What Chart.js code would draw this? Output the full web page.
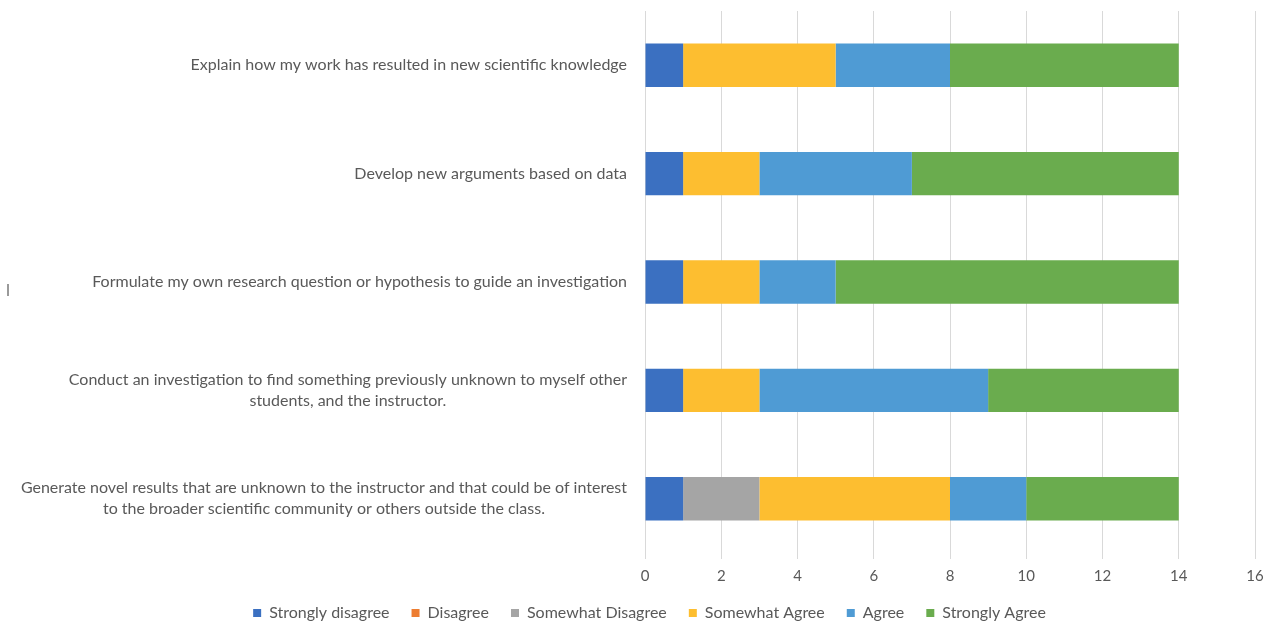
<!DOCTYPE html>
<html>
<head>
<meta charset="utf-8">
<script src="https://cdn.jsdelivr.net/npm/chart.js@4.4.1/dist/chart.umd.min.js"></script>
<style>
html,body{margin:0;padding:0;background:#fff;}
#wrap{width:1274px;height:624px;position:relative;}
</style>
</head>
<body>
<div id="wrap"><canvas id="c" width="1274" height="624"></canvas></div>
<script>
const categories = [
  ["Explain how my work has resulted in new scientific knowledge"],
  ["Develop new arguments based on data"],
  ["Formulate my own research question or hypothesis to guide an investigation"],
  ["Conduct an investigation to find something previously unknown to myself other", "students, and the instructor."],
  ["Generate novel results that are unknown to the instructor and that could be of interest", "to the broader scientific community or others outside the class."]
];
const seriesNames = ["Strongly disagree", "Disagree", "Somewhat Disagree", "Somewhat Agree", "Agree", "Strongly Agree"];
const stronglyDisagree = [1, 1, 1, 1, 1];
const disagree = [0, 0, 0, 0, 0];
const somewhatDisagree = [0, 0, 0, 0, 2];
const somewhatAgree = [4, 2, 2, 2, 5];
const agree = [3, 4, 2, 6, 2];
const stronglyAgree = [6, 7, 9, 5, 4];
const xTicks = [0, 2, 4, 6, 8, 10, 12, 14, 16];

const colors = ["#3B70C1", "#ED7D31", "#A5A5A5", "#FDBE30", "#4F9BD4", "#6AAC4E"];
const seriesData = [stronglyDisagree, disagree, somewhatDisagree, somewhatAgree, agree, stronglyAgree];
const FONT = "Lato";
const TEXT = "#595959";

const labelPlugin = {
  id: 'catLabels',
  afterDraw(chart) {
    const ctx = chart.ctx;
    const y = chart.scales.y;
    ctx.save();
    ctx.font = "16px " + FONT;
    ctx.fillStyle = TEXT;
    ctx.textBaseline = "middle";
    ctx.textAlign = "center";
    const right = 627;
    const lh = 21;
    categories.forEach((lines, i) => {
      const cy = y.getPixelForValue(i);
      const w = Math.max(...lines.map(l => ctx.measureText(l).width));
      const cx = right - w / 2;
      const y0 = cy - (lines.length - 1) * lh / 2;
      lines.forEach((l, j) => ctx.fillText(l, cx, y0 + j * lh));
    });
    ctx.fillStyle = "#9a9a9a";
    ctx.fillRect(7, 284, 2, 12);
    ctx.restore();
  }
};

new Chart(document.getElementById('c'), {
  type: 'bar',
  data: {
    labels: categories.map(c => c.join(' ')),
    datasets: seriesNames.map((n, i) => ({
      label: n,
      data: seriesData[i],
      backgroundColor: colors[i],
      borderWidth: 0,
      categoryPercentage: 1,
      barPercentage: 0.4
    }))
  },
  options: {
    indexAxis: 'y',
    responsive: false,
    animation: false,
    layout: { padding: { left: 44, right: 19, top: 11, bottom: -7 } },
    scales: {
      x: {
        stacked: true,
        min: 0, max: 16,
        afterBuildTicks: (s) => { s.ticks = xTicks.map(v => ({ value: v })); },
        afterFit: (s) => { s.height = 30; },
        grid: { color: "#d9d9d9", lineWidth: 1, drawTicks: true, tickLength: 6, tickColor: "#d9d9d9" },
        border: { display: false },
        ticks: { color: TEXT, font: { family: FONT, size: 15 }, padding: 8 }
      },
      y: {
        stacked: true,
        afterFit: (s) => { s.width = 601; },
        grid: { display: false },
        border: { display: false },
        ticks: { display: false }
      }
    },
    plugins: {
      legend: {
        position: 'bottom',
        labels: {
          boxWidth: 8, boxHeight: 8,
          color: TEXT,
          font: { family: FONT, size: 16 },
          padding: 22
        }
      },
      tooltip: { enabled: false }
    }
  },
  plugins: [labelPlugin]
});
</script>
</body>
</html>
